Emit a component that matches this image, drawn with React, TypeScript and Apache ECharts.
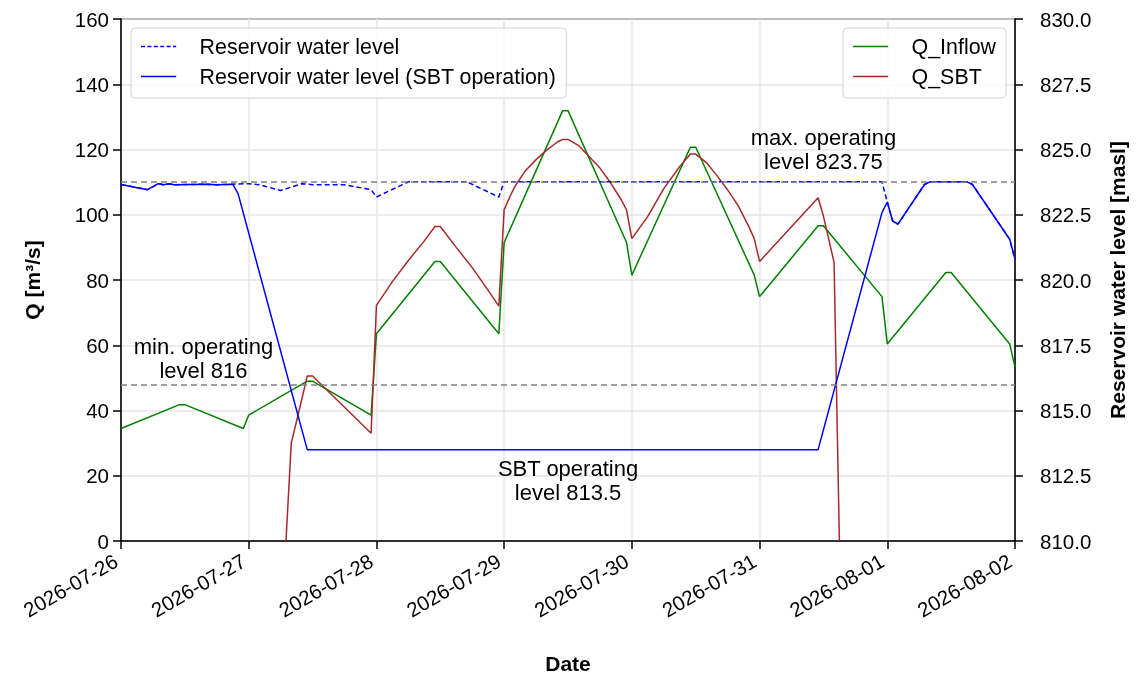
import React, { useEffect, useRef } from "react";
import * as echarts from "echarts";

const dateLabels = ["2026-07-26", "2026-07-27", "2026-07-28", "2026-07-29", "2026-07-30", "2026-07-31", "2026-08-01", "2026-08-02"];

const qInflow: [string, number][] = [
  ["2026-07-26T00:00", 34.5], ["2026-07-26T11:00", 41.8], ["2026-07-26T12:00", 41.8], ["2026-07-26T23:00", 34.5],
  ["2026-07-27T00:00", 38.6], ["2026-07-27T11:00", 49.0], ["2026-07-27T12:00", 49.0], ["2026-07-27T23:00", 38.6],
  ["2026-07-28T00:00", 63.5], ["2026-07-28T11:00", 85.7], ["2026-07-28T12:00", 85.7], ["2026-07-28T23:00", 63.5],
  ["2026-07-29T00:00", 91.5], ["2026-07-29T11:00", 131.9], ["2026-07-29T12:00", 131.9], ["2026-07-29T23:00", 91.5],
  ["2026-07-30T00:00", 81.5], ["2026-07-30T11:00", 120.7], ["2026-07-30T12:00", 120.7], ["2026-07-30T23:00", 81.5],
  ["2026-07-31T00:00", 74.9], ["2026-07-31T11:00", 96.6], ["2026-07-31T12:00", 96.6], ["2026-07-31T23:00", 74.9],
  ["2026-08-01T00:00", 60.4], ["2026-08-01T11:00", 82.3], ["2026-08-01T12:00", 82.3], ["2026-08-01T23:00", 60.4],
  ["2026-08-02T00:00", 53.3],
];

const qSBT: [string, number][] = [
  ["2026-07-27T07:00", 0], ["2026-07-27T08:00", 30.0], ["2026-07-27T09:00", 36.8], ["2026-07-27T10:00", 43.6],
  ["2026-07-27T11:00", 50.6], ["2026-07-27T12:00", 50.6], ["2026-07-27T23:00", 33.0],
  ["2026-07-28T00:00", 72.2], ["2026-07-28T03:00", 79.5], ["2026-07-28T06:00", 86.0], ["2026-07-28T09:00", 92.0],
  ["2026-07-28T11:00", 96.4], ["2026-07-28T12:00", 96.4], ["2026-07-28T15:00", 90.0], ["2026-07-28T18:00", 83.8],
  ["2026-07-28T21:00", 76.8], ["2026-07-28T23:00", 72.0],
  ["2026-07-29T00:00", 101.5], ["2026-07-29T01:00", 105.3], ["2026-07-29T02:00", 108.6], ["2026-07-29T04:00", 113.5],
  ["2026-07-29T06:00", 116.9], ["2026-07-29T08:00", 119.8], ["2026-07-29T10:00", 122.3], ["2026-07-29T11:00", 123.1],
  ["2026-07-29T12:00", 123.1], ["2026-07-29T14:00", 121.2], ["2026-07-29T16:00", 117.8], ["2026-07-29T18:00", 114.3],
  ["2026-07-29T20:00", 109.8], ["2026-07-29T22:00", 104.6], ["2026-07-29T23:00", 101.5],
  ["2026-07-30T00:00", 92.7], ["2026-07-30T03:00", 99.5], ["2026-07-30T06:00", 108.0], ["2026-07-30T09:00", 114.8],
  ["2026-07-30T11:00", 118.6], ["2026-07-30T12:00", 118.6], ["2026-07-30T14:00", 116.0], ["2026-07-30T16:00", 112.0],
  ["2026-07-30T18:00", 107.6], ["2026-07-30T20:00", 102.7], ["2026-07-30T22:00", 96.3], ["2026-07-30T23:00", 92.7],
  ["2026-07-31T00:00", 85.7], ["2026-07-31T11:00", 105.2], ["2026-07-31T12:00", 99.6], ["2026-07-31T14:00", 85.4],
  ["2026-07-31T15:00", 0],
];

const levelSBT: [string, number][] = [
  ["2026-07-26T00:00", 823.66], ["2026-07-26T05:00", 823.46], ["2026-07-26T07:00", 823.69], ["2026-07-26T08:00", 823.65],
  ["2026-07-26T09:00", 823.69], ["2026-07-26T10:00", 823.65], ["2026-07-26T16:00", 823.67], ["2026-07-26T18:00", 823.65],
  ["2026-07-26T21:00", 823.67], ["2026-07-26T22:00", 823.31], ["2026-07-27T11:00", 813.5],
  ["2026-07-31T11:00", 813.5], ["2026-07-31T23:00", 822.58], ["2026-08-01T00:00", 822.99], ["2026-08-01T01:00", 822.26],
  ["2026-08-01T02:00", 822.14], ["2026-08-01T07:00", 823.66], ["2026-08-01T08:00", 823.76], ["2026-08-01T15:00", 823.76],
  ["2026-08-01T16:00", 823.66], ["2026-08-01T23:00", 821.56], ["2026-08-02T00:00", 820.8],
];

const levelBase: [string, number][] = [
  ["2026-07-26T00:00", 823.66], ["2026-07-26T05:00", 823.46], ["2026-07-26T07:00", 823.69], ["2026-07-26T08:00", 823.65],
  ["2026-07-26T09:00", 823.69], ["2026-07-26T10:00", 823.65], ["2026-07-26T16:00", 823.67], ["2026-07-26T18:00", 823.65],
  ["2026-07-26T21:00", 823.67], ["2026-07-27T00:00", 823.69], ["2026-07-27T02:00", 823.65], ["2026-07-27T06:00", 823.43],
  ["2026-07-27T10:00", 823.69], ["2026-07-27T12:00", 823.65], ["2026-07-27T18:00", 823.65], ["2026-07-27T23:00", 823.46],
  ["2026-07-28T00:00", 823.18], ["2026-07-28T06:00", 823.76], ["2026-07-28T17:00", 823.76], ["2026-07-28T23:00", 823.18],
  ["2026-07-29T00:00", 823.76], ["2026-07-31T23:00", 823.76], ["2026-08-01T00:00", 822.99], ["2026-08-01T01:00", 822.26],
  ["2026-08-01T02:00", 822.14], ["2026-08-01T07:00", 823.66], ["2026-08-01T08:00", 823.76], ["2026-08-01T15:00", 823.76],
  ["2026-08-01T16:00", 823.66], ["2026-08-01T23:00", 821.56], ["2026-08-02T00:00", 820.8],
];

const refLevels = [823.75, 816];

const annotations: [string, number, string][] = [
  ["2026-07-31T12:00", 825.0, "max. operating\nlevel 823.75"],
  ["2026-07-26T15:30", 816.98, "min. operating\nlevel 816"],
  ["2026-07-29T12:00", 812.33, "SBT operating\nlevel 813.5"],
];

const DAY = 86400000;
const toMs = (s: string) => Date.parse(s + ":00Z");
const FONT = "'Liberation Sans', Arial, sans-serif";
const SOLID_ICON = "path://M0,0H44V2H0Z";
const DASH_ICON = "path://M0,0H5V2H0Z M8,0H13V2H8Z M16,0H21V2H16Z M24,0H29V2H24Z M32,0H37V2H32Z M40,0H44V2H40Z";

export default function App() {
  const ref = useRef<HTMLDivElement>(null);
  useEffect(() => {
    if (!ref.current) return;
    const chart = echarts.init(ref.current, null, { renderer: "svg" });
    const t0 = toMs(dateLabels[0] + "T00:00");
    const t1 = toMs(dateLabels[dateLabels.length - 1] + "T00:00");
    const conv = (arr: [string, number][]) => arr.map(([t, v]) => [toMs(t), v]);
    const lineBase = { type: "line", showSymbol: false, symbol: "none", animation: false };
    const legendCommon = {
      orient: "vertical", top: 28, itemWidth: 44, itemHeight: 1.6, itemGap: 9,
      padding: [8, 10, 11, 10], borderColor: "#d0d0d0", borderWidth: 1, borderRadius: 4,
      backgroundColor: "rgba(255,255,255,0.85)",
      textStyle: { fontSize: 21.4, fontFamily: FONT, color: "#000", padding: [0, 0, 0, 14] },
    };
    const tick = { show: true, length: 8, lineStyle: { color: "#000", width: 1.5 } };
    chart.setOption({
      animation: false,
      textStyle: { fontFamily: FONT, color: "#000" },
      grid: { left: 121, right: 119, top: 19, bottom: 136, show: true, borderColor: "#000", borderWidth: 1.5, backgroundColor: "transparent" },
      legend: [
        {
          ...legendCommon, left: 131,
          data: [
            { name: "Reservoir water level", icon: DASH_ICON },
            { name: "Reservoir water level (SBT operation)", icon: SOLID_ICON },
          ],
        },
        {
          ...legendCommon, right: 130,
          data: [
            { name: "Q_Inflow", icon: SOLID_ICON },
            { name: "Q_SBT", icon: SOLID_ICON },
          ],
        },
      ],
      xAxis: {
        type: "value", min: t0, max: t1, interval: DAY,
        name: "Date", nameLocation: "middle", nameGap: 112,
        nameTextStyle: { fontWeight: "bold", fontSize: 21, fontFamily: FONT, color: "#000" },
        axisLine: { show: true, lineStyle: { color: "#000", width: 1.5 } },
        axisTick: tick,
        axisLabel: {
          rotate: 30, fontSize: 20.5, color: "#000", fontFamily: FONT, margin: 15, padding: [0, 6, 0, 0],
          formatter: (v: number) => dateLabels[Math.round((v - t0) / DAY)] ?? "",
        },
        splitLine: { show: true, lineStyle: { color: "#e6e6e6", width: 1.5 } },
      },
      yAxis: [
        {
          type: "value", min: 0, max: 160, interval: 20,
          name: "Q [m³/s]", nameLocation: "middle", nameGap: 78,
          nameTextStyle: { fontWeight: "bold", fontSize: 21, fontFamily: FONT, color: "#000" },
          axisLine: { show: true, lineStyle: { color: "#000", width: 1.5 } },
          axisTick: tick,
          axisLabel: { fontSize: 20.5, color: "#000", fontFamily: FONT, margin: 12 },
          splitLine: { show: true, lineStyle: { color: "#e6e6e6", width: 1.5 } },
        },
        {
          type: "value", min: 810, max: 830, interval: 2.5, position: "right",
          name: "Reservoir water level [masl]", nameLocation: "middle", nameGap: 92,
          nameTextStyle: { fontWeight: "bold", fontSize: 21, fontFamily: FONT, color: "#000" },
          axisLine: { show: true, lineStyle: { color: "#000", width: 1.5 } },
          axisTick: tick,
          axisLabel: { fontSize: 20.5, color: "#000", fontFamily: FONT, margin: 25, formatter: (v: number) => v.toFixed(1) },
          splitLine: { show: false },
        },
      ],
      series: [
        { ...lineBase, name: "Q_Inflow", yAxisIndex: 0, data: conv(qInflow), color: "#008000", lineStyle: { color: "#008000", width: 1.5 } },
        { ...lineBase, name: "Q_SBT", yAxisIndex: 0, data: conv(qSBT), color: "#a52a2a", lineStyle: { color: "#a52a2a", width: 1.5 } },
        { ...lineBase, name: "Reservoir water level", yAxisIndex: 1, data: conv(levelBase), color: "#0000ff", lineStyle: { color: "#0000ff", width: 1.5, type: [5, 3] } },
        { ...lineBase, name: "Reservoir water level (SBT operation)", yAxisIndex: 1, data: conv(levelSBT), color: "#0000ff", lineStyle: { color: "#0000ff", width: 1.5 } },
        {
          type: "line", name: "refs", yAxisIndex: 1, data: [], silent: true,
          markLine: {
            silent: true, symbol: "none", animation: false, label: { show: false },
            lineStyle: { color: "#808080", width: 1.5, type: [6, 4] },
            data: refLevels.map((v) => ({ yAxis: v })),
          },
        },
      ],
    });
    const texts = annotations.map(([t, v, s]) => {
      const p = chart.convertToPixel({ xAxisIndex: 0, yAxisIndex: 1 }, [toMs(t), v]) as number[];
      return {
        type: "text", x: p[0], y: p[1], silent: true, z: 10,
        style: {
          text: s, align: "center", verticalAlign: "middle", textAlign: "center", textVerticalAlign: "middle",
          fontSize: 22, lineHeight: 24, fontFamily: FONT, fill: "#000",
        },
      };
    });
    chart.setOption({ graphic: texts });
    return () => chart.dispose();
  }, []);
  return <div ref={ref} style={{ position: "fixed", left: 0, top: 0, width: 1136, height: 679 }} />;
}
